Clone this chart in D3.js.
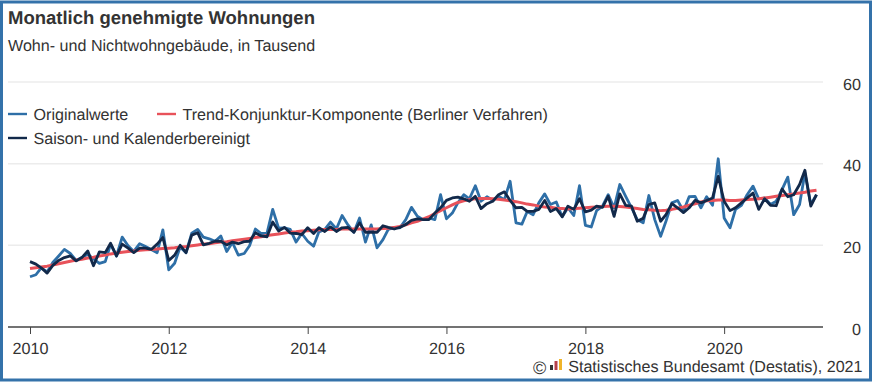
<!DOCTYPE html>
<html>
<head>
<meta charset="utf-8">
<script src="https://cdn.jsdelivr.net/npm/d3@7"></script>
<style>
	html,body{margin:0;padding:0;background:#fff;}
	svg{display:block;}
	text{font-family:"Liberation Sans",Arial,sans-serif;fill:#333;text-rendering:geometricPrecision;}
</style>
</head>
<body>
<div id="chart"></div>
<script>
// monthly values, Jan 2010 - May 2021
const original = [
	12.3,12.8,14.5,13.5,15.8,17.4,19.0,18.0,16.3,17.0,17.8,16.7,
	15.6,16.0,20.3,17.4,22.0,19.9,18.5,20.4,19.7,19.0,18.2,23.8,
	14.0,15.6,19.6,18.2,23.0,23.9,22.0,21.6,21.0,22.3,18.5,20.7,
	17.6,18.0,19.9,24.0,22.9,23.0,28.8,24.2,24.3,23.9,20.8,22.9,
	21.0,19.8,23.3,23.9,25.7,24.0,27.3,25.0,23.2,26.7,20.8,25.0,
	19.4,21.4,23.9,24.4,24.3,26.3,29.3,27.1,26.3,26.7,26.3,32.4,
	26.5,27.9,30.4,32.4,31.4,34.6,30.8,31.9,31.0,32.0,31.2,35.7,
	25.5,25.2,28.3,27.5,30.4,32.6,30.0,30.6,27.0,29.2,27.3,34.6,
	24.9,24.5,28.5,29.6,32.4,29.2,34.9,32.0,29.2,26.3,25.5,32.2,
	26.3,22.2,25.9,30.4,31.0,28.4,31.9,32.0,29.2,31.9,29.8,41.2,
	26.7,24.3,28.8,29.8,32.4,34.5,31.4,31.6,30.0,30.8,33.7,36.7,
	27.5,30.0,37.7,30.0,32.4
]
const adjusted = [
	16.0,15.4,14.5,13.2,15.1,16.3,17.0,17.4,16.2,17.0,18.6,15.0,
	18.4,18.2,20.5,17.4,20.3,19.3,18.2,19.3,19.3,19.0,20.3,21.9,
	16.3,17.6,20.0,18.2,22.5,23.1,20.1,20.5,21.0,21.0,20.1,20.8,
	20.4,20.9,21.0,23.1,22.3,22.1,25.7,23.5,24.4,23.0,22.9,22.6,
	24.3,22.9,24.3,23.4,24.5,23.4,24.3,24.4,23.2,25.5,23.2,23.2,
	23.2,24.8,24.4,24.0,24.4,25.1,26.1,26.5,26.3,26.3,27.9,29.2,
	31.0,31.6,31.8,31.4,30.8,32.0,29.0,30.2,30.8,32.4,33.1,31.0,
	29.2,29.3,28.3,28.3,28.8,31.0,28.3,29.0,27.0,29.6,28.8,31.4,
	28.2,28.6,29.6,29.3,32.0,27.1,32.6,29.8,29.6,25.9,26.6,30.0,
	30.4,25.9,27.5,30.2,29.2,28.0,29.2,31.0,30.4,31.0,31.6,36.9,
	30.8,28.5,29.2,30.4,31.6,32.8,28.8,31.4,29.8,29.7,33.8,31.9,
	32.4,34.9,38.4,29.6,32.4
]
const trend = [
	14.3,14.5,14.7,14.9,15.2,15.5,15.8,16.1,16.4,16.6,16.9,17.1,
	17.4,17.6,17.9,18.1,18.3,18.5,18.6,18.8,18.9,19.0,19.1,19.2,
	19.3,19.4,19.6,19.7,19.9,20.1,20.3,20.4,20.6,20.8,20.9,21.1,
	21.3,21.5,21.7,21.9,22.1,22.4,22.6,22.8,23.0,23.2,23.3,23.5,
	23.6,23.7,23.8,23.9,23.9,23.9,24.0,24.0,24.0,24.0,24.0,24.0,
	24.0,24.1,24.2,24.4,24.6,25.0,25.5,25.9,26.5,27.0,27.8,28.5,
	29.2,29.9,30.5,30.9,31.2,31.4,31.5,31.5,31.4,31.3,31.1,30.9,
	30.7,30.4,30.1,29.9,29.6,29.4,29.3,29.1,29.0,28.9,29.0,29.1,
	29.2,29.3,29.4,29.5,29.6,29.6,29.5,29.4,29.2,29.0,28.8,28.7,
	28.6,28.5,28.6,28.8,29.1,29.4,29.8,30.2,30.6,30.9,31.0,31.1,
	31.1,31.0,31.0,31.1,31.2,31.3,31.4,31.6,31.8,32.0,32.2,32.4,
	32.6,32.8,33.0,33.3,33.5
]
const yearTicks = [2010,2012,2014,2016,2018,2020]
const valueTicks = [0,20,40,60]
const legendItems = [
	{name:"Originalwerte",color:"#2e6fa7",x:8,y:114},
	{name:"Trend-Konjunktur-Komponente (Berliner Verfahren)",color:"#e8525a",x:157,y:114},
	{name:"Saison- und Kalenderbereinigt",color:"#12294a",x:8,y:138}
]

const width = 872, height = 382

const svg = d3.select("#chart").append("svg")
	.attr("width",width)
	.attr("height",height)

svg.append("rect")
	.attr("x",1.5)
	.attr("y",2)
	.attr("width",width-3)
	.attr("height",height-4)
	.attr("fill","#fff")
	.attr("stroke","#3472aa")
	.attr("stroke-width",3)

const x = d3.scaleTime()
	.domain([new Date(2010,0,1),new Date(2021,4,1)])
	.range([30,816.5])
const y = d3.scaleLinear().domain([0,60]).range([327,82])

const dateOf = i => new Date(2010,i,1)

// grid
svg.append("g")
	.selectAll("line")
	.data(valueTicks.filter(d=>d>0))
	.join("line")
	.attr("x1",8)
	.attr("x2",823)
	.attr("y1",d=>y(d))
	.attr("y2",d=>y(d))
	.attr("stroke","#ececec")
	.attr("stroke-width",1.5)

// x axis
const xAxis = svg.append("g")
	.attr("transform",`translate(0,${y(0)})`)
	.call(d3.axisBottom(x)
		.tickValues(yearTicks.map(d=>new Date(d,0,1)))
		.tickFormat(d3.timeFormat("%Y"))
		.tickSize(7)
		.tickPadding(8))
xAxis.select(".domain").remove()
xAxis.selectAll("line").attr("stroke","#444")
xAxis.selectAll("text").attr("font-size",16.2).attr("fill","#333").style("font-family",null)
svg.append("line")
	.attr("x1",8)
	.attr("x2",823)
	.attr("y1",y(0))
	.attr("y2",y(0))
	.attr("stroke","#444")
	.attr("stroke-width",1.3)

// y labels
svg.append("g")
	.selectAll("text")
	.data(valueTicks)
	.join("text")
	.attr("x",861)
	.attr("y",d=>y(d)+7.5)
	.attr("text-anchor","end")
	.attr("font-size",16.2)
	.text(d=>d)

const line = d3.line()
	.x((d,i)=>x(dateOf(i)))
	.y(d=>y(d))

// lines, same order as the legend colours stack in the picture
const series = [[original,"#2e6fa7",2.8],[trend,"#e8525a",3],[adjusted,"#12294a",2.8]]
svg.append("g")
	.selectAll("path")
	.data(series)
	.join("path")
	.attr("d",d=>line(d[0]))
	.attr("fill","none")
	.attr("stroke",d=>d[1])
	.attr("stroke-width",d=>d[2])
	.attr("stroke-linejoin","round")

// legend
const legend = svg.append("g")
	.selectAll("g")
	.data(legendItems)
	.join("g")
	.attr("transform",d=>`translate(${d.x},${d.y})`)
legend.append("line")
	.attr("x1",0)
	.attr("x2",19)
	.attr("stroke",d=>d.color)
	.attr("stroke-width",2.4)
legend.append("text")
	.attr("x",25.5)
	.attr("y",5.5)
	.attr("font-size",16.1)
	.text(d=>d.name)

// titles
svg.append("text")
	.attr("x",8)
	.attr("y",23.5)
	.attr("font-size",18.5)
	.attr("font-weight","bold")
	.text("Monatlich genehmigte Wohnungen")
svg.append("text")
	.attr("x",8)
	.attr("y",51)
	.attr("font-size",16.1)
	.text("Wohn- und Nichtwohngebäude, in Tausend")

// source
svg.append("text")
	.attr("x",533)
	.attr("y",374)
	.attr("font-size",18)
	.text("©")
const logoBars = [[0,5,"#333"],[4.5,9,"#b5404a"],[9,11,"#f0b429"]]
svg.append("g")
	.selectAll("rect")
	.data(logoBars)
	.join("rect")
	.attr("x",d=>550+d[0])
	.attr("y",d=>370-d[1])
	.attr("width",3)
	.attr("height",d=>d[1])
	.attr("fill",d=>d[2])
svg.append("text")
	.attr("x",862.5)
	.attr("y",372)
	.attr("text-anchor","end")
	.attr("font-size",16.1)
	.text("Statistisches Bundesamt (Destatis), 2021")
</script>
</body>
</html>
